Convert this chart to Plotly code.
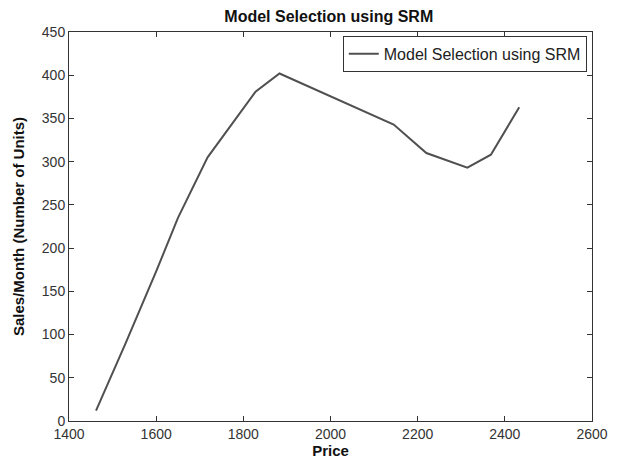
import plotly.graph_objects as go

price = [1462, 1530, 1600, 1650, 1718, 1828, 1883, 2145, 2220, 2314, 2368, 2433]
sales = [12, 90, 173, 235, 305, 381, 402, 343, 310, 293, 308, 363]
x_ticks = [1400, 1600, 1800, 2000, 2200, 2400, 2600]
y_ticks = [0, 50, 100, 150, 200, 250, 300, 350, 400, 450]

FONT = "Liberation Sans, Arial, sans-serif"
AX = "#333333"

fig = go.Figure()
fig.add_trace(go.Scatter(
    x=price, y=sales, mode="lines", name="Model Selection using SRM",
    line=dict(color="#505050", width=2),
))

axis_common = dict(
    showline=True, linecolor=AX, linewidth=1, mirror="ticks",
    ticks="inside", ticklen=5, tickcolor=AX, tickwidth=1,
    showgrid=False, zeroline=False, automargin=False,
    tickfont=dict(family=FONT, size=14, color=AX),
)

fig.update_layout(
    width=618, height=463,
    margin=dict(l=69, r=26, t=32, b=42),
    paper_bgcolor="white", plot_bgcolor="white",
    title=dict(text="<b>Model Selection using SRM</b>", x=0.532, xanchor="center",
               y=1 - 16 / 463, yref="container", yanchor="middle",
               font=dict(family=FONT, size=16, color="#111111")),
    xaxis=dict(range=[1400, 2600], tickvals=x_ticks, ticktext=[str(v) for v in x_ticks],
               title=dict(text="<b>Price</b>", standoff=4,
                          font=dict(family=FONT, size=15, color="#111111")),
               **axis_common),
    yaxis=dict(range=[0, 450], tickvals=y_ticks, ticktext=[str(v) for v in y_ticks],
               title=dict(text="<b>Sales/Month (Number of Units)</b>", standoff=13,
                          font=dict(family=FONT, size=15, color="#111111")),
               **axis_common),
    legend=dict(x=0.99, y=0.99, xanchor="right", yanchor="top",
                bgcolor="white", bordercolor=AX, borderwidth=1,
                font=dict(family=FONT, size=16, color="#222222")),
    showlegend=True,
)

fig.write_html("out.html")
